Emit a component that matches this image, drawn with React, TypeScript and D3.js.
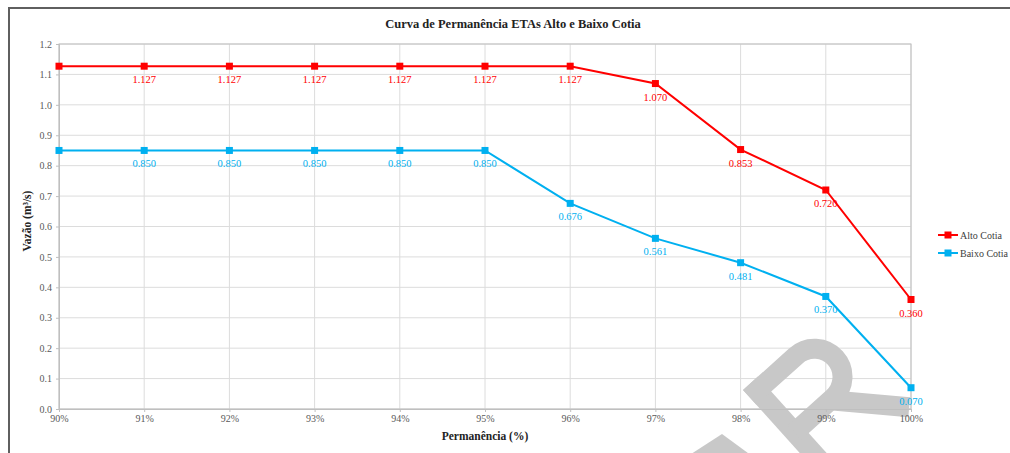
import React, { useEffect, useRef } from 'react'
import * as d3 from 'd3'

const categories = ['90%', '91%', '92%', '93%', '94%', '95%', '96%', '97%', '98%', '99%', '100%']
const altoCotia = [1.127, 1.127, 1.127, 1.127, 1.127, 1.127, 1.127, 1.07, 0.853, 0.72, 0.36]
const baixoCotia = [0.85, 0.85, 0.85, 0.85, 0.85, 0.85, 0.676, 0.561, 0.481, 0.37, 0.07]
const yTicks = [0, 0.1, 0.2, 0.3, 0.4, 0.5, 0.6, 0.7, 0.8, 0.9, 1.0, 1.1, 1.2]

const series = [
  { name: 'Alto Cotia', values: altoCotia, color: '#ff0000' },
  { name: 'Baixo Cotia', values: baixoCotia, color: '#00b0f0' },
]

const serif = '"Liberation Serif", "Times New Roman", serif'

function App() {
  const ref = useRef<SVGSVGElement>(null)

  useEffect(() => {
    const svg = d3.select(ref.current)
    svg.selectAll('*').remove()

    const left = 59
    const right = 911
    const top = 44
    const bottom = 409

    const x = d3.scalePoint<string>().domain(categories).range([left, right])
    const y = d3.scaleLinear().domain([0, 1.2]).range([bottom, top])

    svg.append('rect').attr('width', 1010).attr('height', 453).attr('fill', '#fff')

    // outer frame
    svg
      .append('rect')
      .attr('x', 9)
      .attr('y', 8)
      .attr('width', 1100)
      .attr('height', 600)
      .attr('fill', 'none')
      .attr('stroke', '#5f5f5f')
      .attr('stroke-width', 2)

    // grid
    const grid = svg.append('g')
    grid
      .selectAll('line.h')
      .data(yTicks)
      .enter()
      .append('line')
      .attr('x1', left)
      .attr('x2', right)
      .attr('y1', d => y(d))
      .attr('y2', d => y(d))
      .attr('stroke', '#dcdcdc')
    grid
      .selectAll('line.v')
      .data(categories)
      .enter()
      .append('line')
      .attr('x1', d => x(d)!)
      .attr('x2', d => x(d)!)
      .attr('y1', top)
      .attr('y2', bottom)
      .attr('stroke', '#dcdcdc')

    // plot border
    svg
      .append('rect')
      .attr('x', left)
      .attr('y', top)
      .attr('width', right - left)
      .attr('height', bottom - top)
      .attr('fill', 'none')
      .attr('stroke', '#bfbfbf')

    // watermark (tilted letter "R" and the tip of the letter before it)
    const mark = svg.append('g').attr('fill', 'none').attr('stroke', '#c8c8c8').attr('stroke-width', 20)
    const letter = mark.append('g').attr('transform', 'translate(743,390) rotate(-42)')
    letter.append('path').attr('d', 'M10,0 L10,140')
    letter.append('path').attr('d', 'M0,10 L62,10 A28,28 0 0 1 62,66 L10,66')
    letter.append('path').attr('d', 'M58,66 L112,124')
    mark
      .append('path')
      .attr('d', 'M688,456 L722,434 L752,456 Z')
      .attr('fill', '#c8c8c8')
      .attr('stroke', 'none')

    // axes
    const yAxis = svg
      .append('g')
      .attr('transform', `translate(${left},0)`)
      .call(d3.axisLeft(y).tickValues(yTicks).tickSize(3).tickPadding(4).tickFormat(d3.format('.1f')))
    const xAxis = svg
      .append('g')
      .attr('transform', `translate(0,${bottom})`)
      .call(d3.axisBottom(x).tickSize(3).tickPadding(3))
    ;[yAxis, xAxis].forEach(a => {
      a.attr('font-family', serif)
      a.select('.domain').attr('stroke', '#bfbfbf')
      a.selectAll('.tick line').attr('stroke', '#bfbfbf')
      a.selectAll('.tick text')
        .attr('fill', '#595959')
        .attr('font-family', serif)
        .attr('font-size', 10)
    })

    // series
    const line = d3
      .line<number>()
      .x((d, i) => x(categories[i])!)
      .y(d => y(d))

    series.forEach(s => {
      svg
        .append('path')
        .datum(s.values)
        .attr('d', line)
        .attr('fill', 'none')
        .attr('stroke', s.color)
        .attr('stroke-width', 2)
      svg
        .append('g')
        .selectAll('rect')
        .data(s.values)
        .enter()
        .append('rect')
        .attr('x', (d, i) => x(categories[i])! - 3.5)
        .attr('y', d => y(d) - 3.5)
        .attr('width', 7)
        .attr('height', 7)
        .attr('fill', s.color)
      svg
        .append('g')
        .selectAll('text')
        .data(s.values.slice(1))
        .enter()
        .append('text')
        .attr('x', (d, i) => x(categories[i + 1])!)
        .attr('y', d => y(d) + 17)
        .attr('text-anchor', 'middle')
        .attr('font-family', serif)
        .attr('font-size', 10.5)
        .attr('fill', s.color)
        .text(d => d3.format('.3f')(d))
    })

    // titles
    svg
      .append('text')
      .attr('x', 513)
      .attr('y', 28)
      .attr('text-anchor', 'middle')
      .attr('font-family', serif)
      .attr('font-weight', 'bold')
      .attr('font-size', 12.5)
      .attr('fill', '#222')
      .text('Curva de Permanência ETAs Alto e Baixo Cotia')
    svg
      .append('text')
      .attr('x', (left + right) / 2)
      .attr('y', 440)
      .attr('text-anchor', 'middle')
      .attr('font-family', serif)
      .attr('font-weight', 'bold')
      .attr('font-size', 11.5)
      .attr('fill', '#222')
      .text('Permanência (%)')
    svg
      .append('text')
      .attr('transform', 'translate(31,221) rotate(-90)')
      .attr('text-anchor', 'middle')
      .attr('font-family', serif)
      .attr('font-weight', 'bold')
      .attr('font-size', 11.5)
      .attr('fill', '#222')
      .text('Vazão (m³/s)')

    // legend
    const legend = svg
      .append('g')
      .selectAll('g')
      .data(series)
      .enter()
      .append('g')
      .attr('transform', (d, i) => `translate(938,${235 + i * 18})`)
    legend
      .append('line')
      .attr('x1', 0)
      .attr('x2', 20)
      .attr('stroke', d => d.color)
      .attr('stroke-width', 2)
    legend
      .append('rect')
      .attr('x', 6.5)
      .attr('y', -3.5)
      .attr('width', 7)
      .attr('height', 7)
      .attr('fill', d => d.color)
    legend
      .append('text')
      .attr('x', 22)
      .attr('y', 3.5)
      .attr('font-family', serif)
      .attr('font-size', 10)
      .attr('fill', '#404040')
      .text(d => d.name)
  }, [])

  return (
    <svg
      ref={ref}
      width={1010}
      height={453}
      style={{ position: 'absolute', left: 0, top: 0 }}
    />
  )
}

export default App
